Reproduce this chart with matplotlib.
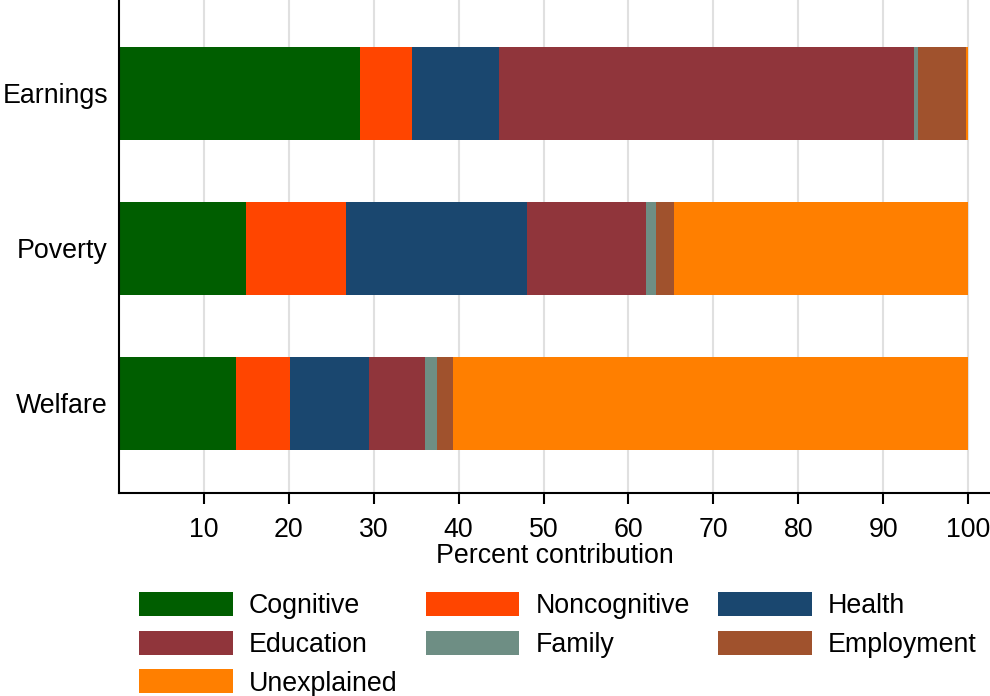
import matplotlib
matplotlib.use("Agg")
import matplotlib.pyplot as plt
import numpy as np

# Data (percent contribution of each factor)
outcomes = ["Earnings", "Poverty", "Welfare"]
factors = ["Cognitive", "Noncognitive", "Health", "Education", "Family", "Employment", "Unexplained"]
cognitive = [28.35, 14.9, 13.8]
noncognitive = [6.15, 11.8, 6.3]
health = [10.2, 21.3, 9.3]
education = [48.9, 14.1, 6.6]
family = [0.5, 1.2, 1.4]
employment = [5.7, 2.1, 1.9]
unexplained = [0.2, 34.6, 60.7]
xticks = [10, 20, 30, 40, 50, 60, 70, 80, 90, 100]

colors = ["#005e00", "#ff4500", "#1a476f", "#90353b", "#6e8e84", "#a0522d", "#ff7f00"]

plt.rcParams['font.family'] = ['Liberation Sans', 'DejaVu Sans']
fs = 19.3

fig = plt.figure(figsize=(9.9, 6.96), dpi=100)
ax = fig.add_axes([119/990, 1 - 493/696, 1 - 119/990, 493/696])

ypos = np.array([2, 1, 0])
left = np.zeros(3)
series = [cognitive, noncognitive, health, education, family, employment, unexplained]
for name, vals, col in zip(factors, series, colors):
    vals = np.array(vals)
    ax.barh(ypos, vals, left=left, height=0.6, color=col, label=name, zorder=2)
    left += vals

ax.set_xlim(0, 100 * 871 / 849)
ax.set_ylim(-0.58, 2.6)
ax.set_xticks(xticks)
ax.set_yticks(ypos)
ax.set_yticklabels(outcomes)
ax.tick_params(axis='x', length=8, width=1.5, labelsize=fs, pad=9)
ax.tick_params(axis='y', length=0, labelsize=fs, pad=8)
ax.xaxis.grid(True, color="#e0e0e0", linewidth=1.5, zorder=0)
ax.set_axisbelow(True)
for s in ["top", "right"]:
    ax.spines[s].set_visible(False)
for s in ["left", "bottom"]:
    ax.spines[s].set_linewidth(1.5)
ax.set_xlabel("Percent contribution", fontsize=fs, labelpad=0)

# Legend below, three columns filled row by row
handles, labels = ax.get_legend_handles_labels()
order = [0, 3, 6, 1, 4, 2, 5]
fig.legend([handles[i] for i in order], [labels[i] for i in order],
           ncol=3, loc="upper left",
           bbox_to_anchor=(139/990, 1 - 592/696), frameon=False,
           fontsize=fs, handlelength=3.5, handleheight=1.0,
           handletextpad=0.6, columnspacing=1.05, labelspacing=0.43,
           borderpad=0, borderaxespad=0)

fig.savefig("out.png", dpi=100)
